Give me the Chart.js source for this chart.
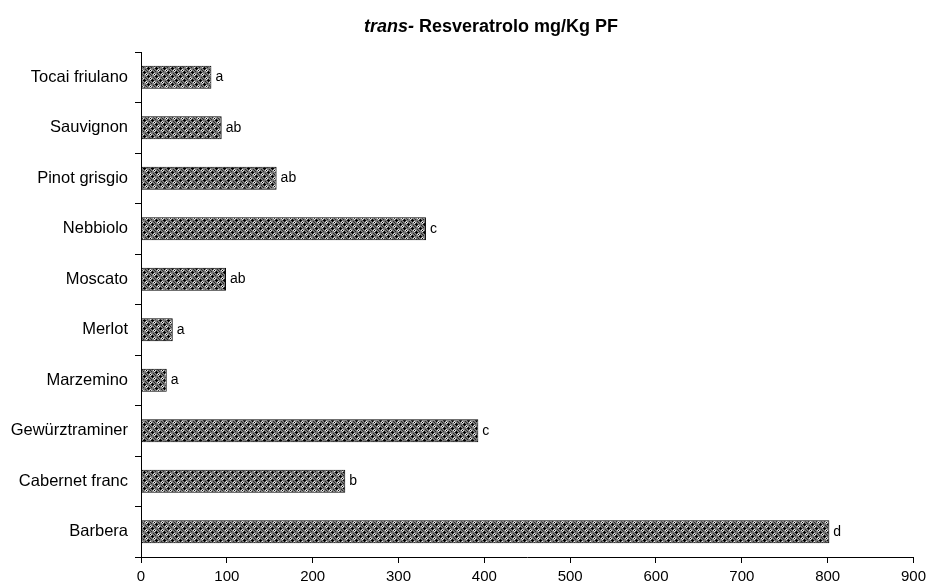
<!DOCTYPE html>
<html>
<head>
<meta charset="utf-8">
<script src="https://cdn.jsdelivr.net/npm/chart.js@4"></script>
<style>
  body { margin: 0; background: #fff; }
  #wrap { width: 931px; height: 585px; }
</style>
</head>
<body>
<div id="wrap"><canvas id="chart"></canvas></div>
<script>
// vitigni, dal basso verso l'alto
const vitigni = ['Barbera', 'Cabernet franc', 'Gewürztraminer', 'Marzemino', 'Merlot',
  'Moscato', 'Nebbiolo', 'Pinot grisgio', 'Sauvignon', 'Tocai friulano'];
const resveratrolo = [802, 238, 393, 30, 37, 99, 332, 158, 94, 82];
const lettere = ['d', 'b', 'c', 'a', 'a', 'ab', 'c', 'ab', 'ab', 'a'];
const tickX = [0, 100, 200, 300, 400, 500, 600, 700, 800, 900];

Chart.defaults.font.family = '"Liberation Sans", Arial, sans-serif';
Chart.defaults.color = '#000';

// retino a croci e cerchietti per le barre
function retino() {
  const c = document.createElement('canvas');
  c.width = 8; c.height = 8;
  const g = c.getContext('2d');
  g.fillStyle = '#7a7a7a';
  g.fillRect(0, 0, 8, 8);
  const px = (col, pts) => {
    g.fillStyle = col;
    pts.forEach(([x, y]) => g.fillRect(x, y, 1, 1));
  };
  // cerchietti chiari
  px('#e6e6e6', [[2, 1], [1, 2], [3, 2], [2, 3], [6, 5], [5, 6], [7, 6], [6, 7]]);
  // croci nere
  px('#000', [[0, 0], [7, 0], [1, 0], [0, 7], [0, 1],
              [4, 4], [3, 4], [5, 4], [4, 3], [4, 5], [2, 2], [6, 6]]);
  px('#2a2a2a', [[6, 2], [2, 6], [5, 1], [1, 5], [3, 7], [7, 3]]);
  return g.createPattern(c, 'repeat');
}

const titolo = {
  id: 'titolo',
  afterDraw(chart) {
    const ctx = chart.ctx;
    ctx.save();
    ctx.fillStyle = '#000';
    ctx.textBaseline = 'alphabetic';
    const a = 'italic bold 18px "Liberation Sans", Arial, sans-serif';
    const b = 'bold 18px "Liberation Sans", Arial, sans-serif';
    ctx.font = a;
    const w1 = ctx.measureText('trans-').width;
    ctx.font = b;
    const w2 = ctx.measureText(' Resveratrolo mg/Kg PF').width;
    const x = 491 - (w1 + w2) / 2;
    ctx.font = a;
    ctx.fillText('trans-', x, 32);
    ctx.font = b;
    ctx.fillText(' Resveratrolo mg/Kg PF', x + w1, 32);
    ctx.restore();
  }
};

const etichette = {
  id: 'etichette',
  afterDatasetsDraw(chart) {
    const ctx = chart.ctx;
    const meta = chart.getDatasetMeta(0);
    ctx.save();
    ctx.font = '14px "Liberation Sans", Arial, sans-serif';
    ctx.fillStyle = '#000';
    ctx.textBaseline = 'middle';
    meta.data.forEach((bar, i) => {
      ctx.fillText(lettere[i], bar.x + 4, bar.y);
    });
    ctx.restore();
  }
};

new Chart(document.getElementById('chart'), {
  type: 'bar',
  data: {
    labels: vitigni,
    datasets: [{
      data: resveratrolo,
      backgroundColor: retino(),
      borderColor: '#000',
      borderWidth: 1,
      borderSkipped: false,
      categoryPercentage: 1,
      barPercentage: 0.46
    }]
  },
  options: {
    indexAxis: 'y',
    responsive: true,
    maintainAspectRatio: false,
    animation: false,
    layout: { padding: { top: 52, right: 15, bottom: 0, left: 0 } },
    plugins: {
      legend: { display: false },
      tooltip: { enabled: false }
    },
    scales: {
      x: {
        min: 0,
        max: 900,
        afterBuildTicks(axis) { axis.ticks = tickX.map(v => ({ value: v })); },
        afterFit(axis) { axis.height = 28; },
        border: { color: '#000', width: 1 },
        grid: { drawOnChartArea: false, drawTicks: true, tickLength: 6, color: '#000' },
        ticks: { padding: 5, font: { size: 15 } }
      },
      y: {
        reverse: true,
        afterFit(axis) { axis.width = 141; },
        border: { color: '#000', width: 1 },
        grid: { drawOnChartArea: false, drawTicks: true, tickLength: 6, color: '#000', offset: true },
        ticks: { padding: 7, font: { size: 16.5 } }
      }
    }
  },
  plugins: [titolo, etichette]
});
</script>
</body>
</html>
